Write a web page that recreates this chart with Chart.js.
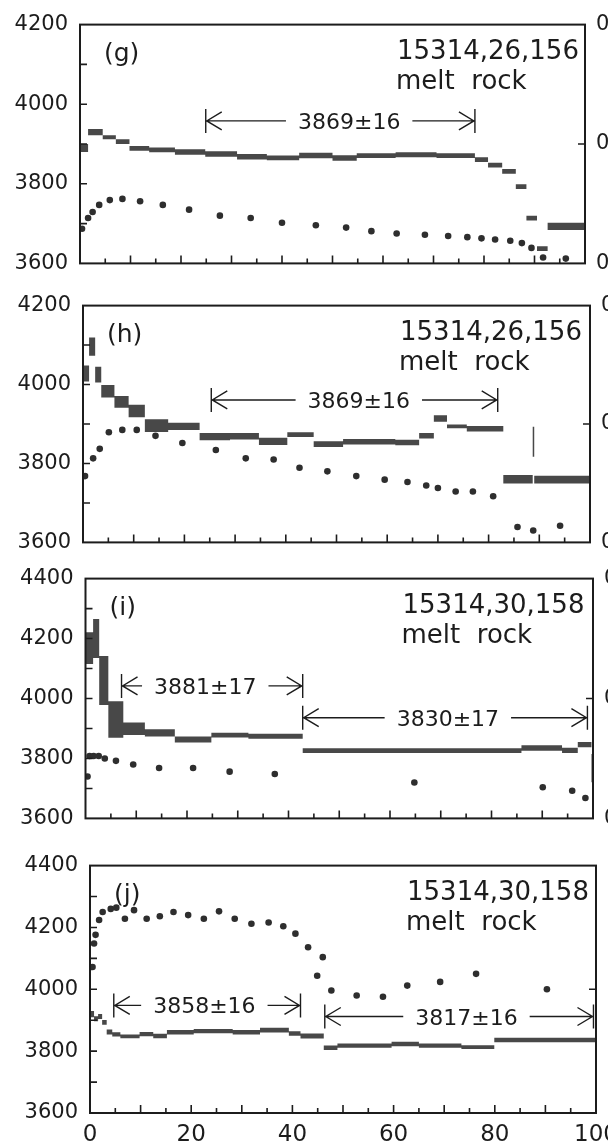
<!DOCTYPE html>
<html>
<head>
<meta charset="utf-8">
<script src="https://cdn.jsdelivr.net/npm/chart.js@4.4.1/dist/chart.umd.min.js"></script>
<style>
  html, body { margin: 0; padding: 0; background: #fff; overflow: hidden; width: 608px; height: 1147px; }
  canvas { position: absolute; left: 0; }
</style>
</head>
<body>
<canvas id="cg"></canvas>
<canvas id="ch"></canvas>
<canvas id="ci"></canvas>
<canvas id="cj"></canvas>
<script>
// --- panel (g) 15314,26,156 ---
const gEdges = [0, 1.6, 4.5, 7.1, 9.8, 13.7, 18.8, 24.8, 31.1, 37.0, 43.4, 50.0, 54.8, 62.5, 70.6, 78.2, 80.8, 83.6, 86.3, 88.4, 90.5, 92.6, 100];
const gAge = [3890, 3930, 3917, 3906, 3889, 3885, 3880, 3875, 3868, 3865, 3871, 3865, 3871, 3873, 3871, 3861, 3847, 3831, 3793, 3714, 3637, 3693];
const gErr = [10, 8, 5, 6, 6, 6, 7, 7, 7, 6, 7, 7, 6, 6, 6, 6, 6, 6, 6, 6, 6, 9];
const gDotX = [0.4, 1.6, 2.5, 3.8, 5.9, 8.4, 11.9, 16.4, 21.6, 27.7, 33.8, 40.0, 46.7, 52.7, 57.7, 62.7, 68.3, 72.9, 76.7, 79.5, 82.2, 85.2, 87.5, 89.4, 91.7, 96.2];
const gDotY = [.029, .038, .043, .049, .053, .054, .052, .049, .045, .040, .038, .034, .032, .030, .027, .025, .024, .023, .022, .021, .020, .019, .017, .013, .005, .004];
const gPlateau = [{ from: 24.9, to: 78.2, y: 3958, at: 53.3, text: '3869±16' }];

// --- panel (h) 15314,26,156 ---
const hEdges = [0, 1.2, 2.4, 3.6, 6.2, 9.0, 12.2, 16.8, 23.0, 29.0, 34.7, 40.3, 45.5, 51.3, 61.6, 66.3, 69.2, 71.8, 75.7, 82.9, 88.7, 89.0, 100];
const hAge = [4028, 4096, 4025, 3983, 3956, 3933, 3896, 3894, 3868, 3869, 3856, 3873, 3849, 3855, 3853, 3870, 3914, 3894, 3888, 3760, 3855, 3759];
const hErr = [20, 23, 20, 16, 15, 16, 16, 9, 9, 8, 9, 6, 7, 7, 7, 7, 8, 5, 7, 11, 38, 10];
const hDotX = [0.4, 2.0, 3.3, 5.1, 7.75, 10.6, 14.3, 19.6, 26.2, 32.1, 37.6, 42.7, 48.2, 53.9, 59.5, 64.0, 67.7, 70.0, 73.5, 76.9, 80.9, 85.7, 88.8, 94.1];
const hDotY = [.056, .071, .079, .093, .095, .095, .090, .084, .078, .071, .070, .063, .060, .056, .053, .051, .048, .046, .043, .043, .039, .013, .010, .014];
const hPlateau = [{ from: 25.3, to: 81.8, y: 3961, at: 54.4, text: '3869±16' }];

// --- panel (i) 15314,30,158 ---
const iEdges = [0, 1.5, 2.7, 4.5, 7.45, 11.7, 17.6, 24.8, 32.1, 42.8, 85.9, 93.9, 97.0, 99.7, 100];
const iAge = [4168, 4200, 4060, 3930, 3899, 3885, 3863, 3878, 3874, 3826, 3835, 3827, 3846, 3768];
const iErr = [53, 65, 82, 61, 21, 12, 10, 8, 8, 8, 9, 9, 9, 47];
const iDotX = [0.4, 0.8, 1.6, 2.6, 3.8, 6.0, 9.4, 14.5, 21.2, 28.4, 37.3, 64.8, 90.1, 95.9, 98.5];
const iDotY = [.035, .052, .052, .052, .050, .048, .045, .042, .042, .039, .037, .030, .026, .023, .017];
const iPlateau = [
    { from: 7.1, to: 42.8, y: 4042, at: 23.6, text: '3881±17' },
    { from: 42.8, to: 98.9, y: 3936, at: 71.4, text: '3830±17' }
];

// --- panel (j) 15314,30,158 ---
const jEdges = [0, 0.8, 1.6, 2.4, 3.3, 4.4, 6.0, 9.8, 12.5, 15.2, 20.5, 28.2, 33.6, 39.3, 41.6, 46.2, 48.9, 59.6, 65.0, 73.4, 79.9, 100];
const jAge = [3920, 3905, 3912, 3893, 3862, 3854, 3848, 3855, 3849, 3861, 3865, 3861, 3868, 3857, 3849, 3811, 3818, 3823, 3818, 3813, 3836];
const jErr = [10, 8, 8, 8, 8, 7, 6, 7, 7, 7, 7, 7, 8, 7, 8, 7, 7, 7, 7, 6, 7];
const jDotX = [0.5, 0.8, 1.1, 1.8, 2.5, 4.1, 5.2, 6.9, 8.7, 11.2, 13.8, 16.5, 19.4, 22.5, 25.5, 28.6, 31.9, 35.3, 38.2, 40.6, 43.1, 46.0, 44.9, 47.7, 52.7, 57.9, 62.7, 69.2, 76.3, 90.3];
const jDotY = [.118, .137, .144, .156, .1625, .165, .166, .157, .164, .157, .159, .1625, .160, .157, .163, .157, .153, .154, .151, .145, .134, .126, .111, .099, .095, .094, .103, .106, .1125, .100];
const jPlateau = [
    { from: 4.7, to: 41.6, y: 3948, at: 22.6, text: '3858±16' },
    { from: 46.4, to: 99.5, y: 3912, at: 74.4, text: '3817±16' }
];

const xTicks = [0, 20, 40, 60, 80, 100];

const INK = '#1c1c1c';
const FONT = 'DejaVu Sans';
const CW = 640;

// posicao de cada painel na pagina
const paineis = [
    { canvas: 'cg', tag: '(g)', sample: '15314,26,156', left: 80, right: 585, top: 16, bottom: 268, yMax: 4200,
      edges: gEdges, age: gAge, err: gErr, dotX: gDotX, dotY: gDotY, plateaus: gPlateau },
    { canvas: 'ch', tag: '(h)', sample: '15314,26,156', left: 83, right: 590, top: 297, bottom: 547, yMax: 4200,
      edges: hEdges, age: hAge, err: hErr, dotX: hDotX, dotY: hDotY, plateaus: hPlateau },
    { canvas: 'ci', tag: '(i)', sample: '15314,30,158', left: 85.5, right: 593, top: 570, bottom: 823, yMax: 4400,
      edges: iEdges, age: iAge, err: iErr, dotX: iDotX, dotY: iDotY, plateaus: iPlateau },
    { canvas: 'cj', tag: '(j)', sample: '15314,30,158', left: 90, right: 596, top: 857, bottom: 1113, yMax: 4400,
      edges: jEdges, age: jAge, err: jErr, dotX: jDotX, dotY: jDotY, plateaus: jPlateau, showX: true }
];

// pontos para a linha em degraus (o valor vale ate a proxima borda)
function degraus(edges, vals) {
    const pts = vals.map((v, i) => ({ x: edges[i], y: v }));
    pts.push({ x: edges[edges.length - 1], y: vals[vals.length - 1] });
    return pts;
}

function decoracao(p) {
    return {
        id: 'decoracao',
        afterDatasetsDraw(chart) {
            const { ctx, chartArea: a, scales: { x, y, y2 } } = chart;
            ctx.save();
            ctx.strokeStyle = INK;
            ctx.fillStyle = INK;

            // moldura
            ctx.lineWidth = 2;
            ctx.strokeRect(a.left, a.top, a.right - a.left, a.bottom - a.top);

            // marcas para dentro
            ctx.lineWidth = 1.6;
            ctx.beginPath();
            for (let v = 5; v < 100; v += 5) {
                const px = x.getPixelForValue(v);
                const len = v % 10 === 0 ? 8 : 5;
                ctx.moveTo(px, a.bottom);
                ctx.lineTo(px, a.bottom - len);
            }
            for (let v = 3700; v < p.yMax; v += 100) {
                const py = y.getPixelForValue(v);
                ctx.moveTo(a.left, py);
                ctx.lineTo(a.left + 7, py);
            }
            const pm = y2.getPixelForValue(0.1);
            ctx.moveTo(a.right, pm);
            ctx.lineTo(a.right - 7, pm);
            ctx.stroke();

            // plateaus
            ctx.font = '22px "' + FONT + '"';
            ctx.textAlign = 'center';
            ctx.textBaseline = 'alphabetic';
            p.plateaus.forEach(q => {
                const x1 = x.getPixelForValue(q.from);
                const x2 = x.getPixelForValue(q.to);
                const xc = x.getPixelForValue(q.at);
                const py = y.getPixelForValue(q.y);
                const w = ctx.measureText(q.text).width;
                ctx.fillText(q.text, xc, py + 8);
                ctx.lineWidth = 1.4;
                ctx.beginPath();
                ctx.moveTo(x1, py - 12); ctx.lineTo(x1, py + 12);
                ctx.moveTo(x2, py - 12); ctx.lineTo(x2, py + 12);
                ctx.moveTo(x1, py); ctx.lineTo(xc - w / 2 - 12, py);
                ctx.moveTo(xc + w / 2 + 12, py); ctx.lineTo(x2, py);
                ctx.moveTo(x1 + 16, py - 9); ctx.lineTo(x1 + 1, py); ctx.lineTo(x1 + 16, py + 9);
                ctx.moveTo(x2 - 16, py - 9); ctx.lineTo(x2 - 1, py); ctx.lineTo(x2 - 16, py + 9);
                ctx.stroke();
            });

            // textos do painel
            ctx.textAlign = 'left';
            ctx.font = '25px "' + FONT + '"';
            ctx.fillText(p.tag, a.left + 24, a.top + 36);
            ctx.font = '26px "' + FONT + '"';
            ctx.fillText(p.sample, a.left + 317, a.top + 34);
            ctx.fillText('melt  rock', a.left + 316, a.top + 64);
            ctx.restore();
        }
    };
}

function criarPainel(p) {
    const extra = p.showX ? 1147 - p.bottom : 20;
    const padTop = 16;
    const canvas = document.getElementById(p.canvas);
    canvas.width = CW;
    canvas.height = p.bottom - p.top + padTop + extra;
    canvas.style.top = (p.top - padTop) + 'px';

    const topo = p.age.map((v, i) => v + p.err[i]);
    const base = p.age.map((v, i) => v - p.err[i]);

    return new Chart(canvas.getContext('2d'), {
        type: 'line',
        data: {
            datasets: [
                { data: degraus(p.edges, topo), stepped: true, borderWidth: 0, pointRadius: 0, fill: false, yAxisID: 'y' },
                { data: degraus(p.edges, base), stepped: true, borderWidth: 0, pointRadius: 0, fill: '-1',
                  backgroundColor: '#484848', yAxisID: 'y' },
                { data: p.dotX.map((v, i) => ({ x: v, y: p.dotY[i] })), showLine: false, yAxisID: 'y2',
                  pointRadius: 3.3, pointBackgroundColor: '#2e2e2e', pointBorderWidth: 0 }
            ]
        },
        options: {
            responsive: false,
            animation: false,
            devicePixelRatio: 1,
            layout: { padding: { top: padTop, left: 0, right: 0, bottom: 0 } },
            plugins: { legend: { display: false }, tooltip: { enabled: false } },
            scales: {
                x: {
                    type: 'linear', min: 0, max: 100,
                    grid: { display: false, drawTicks: false },
                    border: { display: false },
                    afterBuildTicks: s => { s.ticks = xTicks.map(v => ({ value: v })); },
                    ticks: { display: !!p.showX, padding: 8, color: INK, font: { family: FONT, size: 23 },
                             callback: v => String(v) },
                    afterFit: s => { s.height = extra; }
                },
                y: {
                    position: 'left', min: 3600, max: p.yMax,
                    grid: { display: false, drawTicks: false },
                    border: { display: false },
                    ticks: { stepSize: 200, padding: 12, color: INK, font: { family: FONT, size: 21 },
                             callback: v => String(v) },
                    afterFit: s => { s.width = p.left; }
                },
                y2: {
                    position: 'right', min: 0, max: 0.2,
                    grid: { display: false, drawTicks: false },
                    border: { display: false },
                    ticks: { stepSize: 0.1, padding: 11, color: INK, font: { family: FONT, size: 21 },
                             callback: v => v === 0 ? '0' : v.toFixed(1) },
                    afterFit: s => { s.width = CW - p.right; }
                }
            }
        },
        plugins: [decoracao(p)]
    });
}

window.onload = function() {
    paineis.forEach(criarPainel);
};
</script>
</body>
</html>
